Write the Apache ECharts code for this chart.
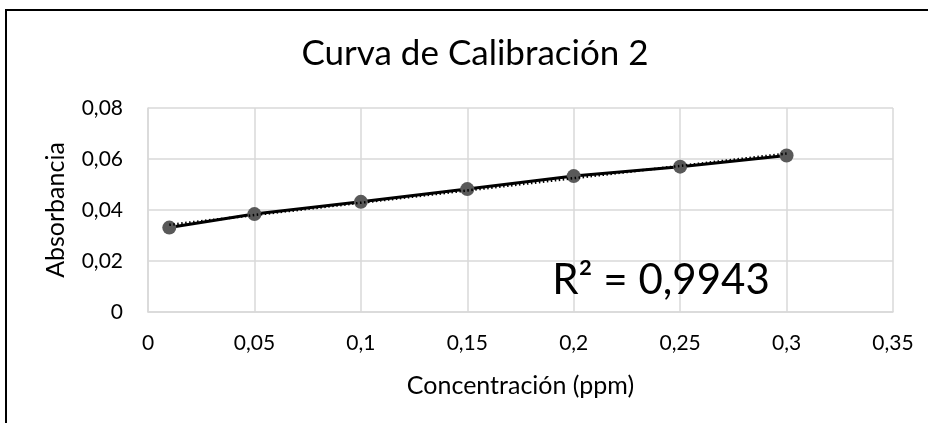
<!DOCTYPE html>
<html>
<head>
<meta charset="utf-8">
<script src="https://cdn.jsdelivr.net/npm/echarts@6/dist/echarts.min.js"></script>
<style>
html,body{margin:0;padding:0;background:#fff;}
#c{width:931px;height:423px;}
</style>
</head>
<body>
<div id="c"></div>
<script>
var concentrations = [0.01, 0.05, 0.1, 0.15, 0.2, 0.25, 0.3];
var absorbances = [0.0331, 0.0384, 0.0432, 0.0482, 0.0533, 0.0570, 0.0614];
var xTicks = [0, 0.05, 0.1, 0.15, 0.2, 0.25, 0.3, 0.35];
var yTicks = [0, 0.02, 0.04, 0.06, 0.08];
var titleText = 'Curva de Calibración 2';
var xName = 'Concentración (ppm)';
var yName = 'Absorbancia';
var r2Text = 'R² = 0,9943';

// linear least squares trendline
var n = concentrations.length, sx = 0, sy = 0, sxx = 0, sxy = 0;
for (var i = 0; i < n; i++) {
  sx += concentrations[i]; sy += absorbances[i];
  sxx += concentrations[i] * concentrations[i];
  sxy += concentrations[i] * absorbances[i];
}
var slope = (n * sxy - sx * sy) / (n * sxx - sx * sx);
var intercept = (sy - slope * sx) / n;
var xMin = concentrations[0], xMax = concentrations[n - 1];
var trend = [[xMin, intercept + slope * xMin], [xMax, intercept + slope * xMax]];

var fmt = function (v) { return String(Math.round(v * 1000) / 1000).replace('.', ','); };
var FONT = 'Lato';

var chart = echarts.init(document.getElementById('c'));
chart.setOption({
  animation: false,
  backgroundColor: '#ffffff',
  grid: { left: 148, right: 38, top: 108, bottom: 111, containLabel: false },
  xAxis: {
    type: 'value', min: xTicks[0], max: xTicks[xTicks.length - 1], interval: 0.05,
    axisLine: { show: true, lineStyle: { color: '#d9d9d9', width: 1.5 } },
    axisTick: { show: false },
    splitLine: { show: true, lineStyle: { color: '#d9d9d9', width: 1.5 } },
    axisLabel: { color: '#000', fontFamily: FONT, fontSize: 21, margin: 21, formatter: fmt },
    name: xName, nameLocation: 'middle', nameGap: 61,
    nameTextStyle: { color: '#000', fontFamily: FONT, fontSize: 25 }
  },
  yAxis: {
    type: 'value', min: yTicks[0], max: yTicks[yTicks.length - 1], interval: 0.02,
    axisLine: { show: true, lineStyle: { color: '#d9d9d9', width: 1.5 } },
    axisTick: { show: false },
    splitLine: { show: true, lineStyle: { color: '#d9d9d9', width: 1.5 } },
    axisLabel: { color: '#000', fontFamily: FONT, fontSize: 21, margin: 25, formatter: fmt },
    name: yName, nameLocation: 'middle', nameGap: 80, nameRotate: 90,
    nameTextStyle: { color: '#000', fontFamily: FONT, fontSize: 25 }
  },
  series: [
    {
      type: 'line', z: 2,
      data: concentrations.map(function (x, i) { return [x, absorbances[i]]; }),
      lineStyle: { color: '#000', width: 3 },
      symbol: 'circle', symbolSize: 14,
      itemStyle: { color: '#595959' }
    },
    {
      type: 'line', z: 5, data: trend, symbol: 'none',
      lineStyle: { color: '#000', width: 2.5, type: [1.5, 2.5] }
    }
  ],
  graphic: [
    { type: 'line', shape: { x1: 5, y1: 10, x2: 928, y2: 10 }, style: { stroke: '#000', lineWidth: 2 } },
    { type: 'line', shape: { x1: 6, y1: 9, x2: 6, y2: 423 }, style: { stroke: '#000', lineWidth: 2 } },
    { type: 'text', style: { x: 475, y: 54, text: titleText, textAlign: 'center', textVerticalAlign: 'middle', fontFamily: FONT, fontSize: 35, fill: '#000' } },
    { type: 'text', z: 10, style: { x: 661, y: 280, text: r2Text, textAlign: 'center', textVerticalAlign: 'middle', fontFamily: FONT, fontSize: 42, fill: '#000' } }
  ]
});
</script>
</body>
</html>
